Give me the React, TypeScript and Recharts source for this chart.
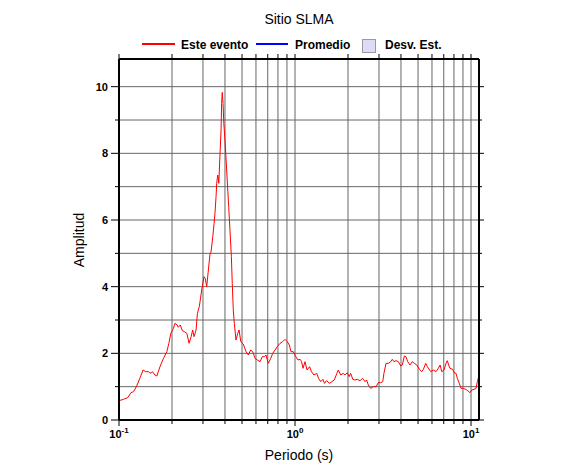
import { CartesianGrid, Line, LineChart, XAxis, YAxis } from 'recharts';

const periods = [
  0.1, 0.106, 0.112, 0.117, 0.121, 0.126, 0.132, 0.137, 0.142, 0.147, 0.152, 0.155,
  0.16, 0.164, 0.171, 0.179, 0.187, 0.192, 0.197, 0.204, 0.208, 0.214, 0.217, 0.223,
  0.229, 0.235, 0.243, 0.25, 0.257, 0.262, 0.267, 0.274, 0.279, 0.286, 0.295, 0.304,
  0.309, 0.315, 0.322, 0.329, 0.333, 0.341, 0.347, 0.351, 0.356, 0.359, 0.364, 0.369,
  0.375, 0.38, 0.383, 0.386, 0.39, 0.394, 0.4, 0.406, 0.412, 0.42, 0.427, 0.435,
  0.44, 0.446, 0.452, 0.462, 0.473, 0.481, 0.492, 0.508, 0.527, 0.543, 0.56, 0.575,
  0.593, 0.611, 0.633, 0.652, 0.669, 0.684, 0.705, 0.728, 0.747, 0.77, 0.793, 0.822,
  0.851, 0.877, 0.904, 0.928, 0.949, 0.978, 1.01, 1.04, 1.07, 1.09, 1.11, 1.14,
  1.17, 1.21, 1.24, 1.28, 1.33, 1.36, 1.4, 1.44, 1.47, 1.51, 1.57, 1.62,
  1.67, 1.73, 1.76, 1.82, 1.88, 1.92, 1.98, 2.03, 2.07, 2.13, 2.19, 2.26,
  2.34, 2.42, 2.5, 2.55, 2.61, 2.69, 2.79, 2.89, 2.97, 3.07, 3.15, 3.2,
  3.29, 3.39, 3.5, 3.57, 3.65, 3.75, 3.86, 3.99, 4.07, 4.18, 4.27, 4.37,
  4.5, 4.64, 4.76, 4.92, 5.09, 5.25, 5.36, 5.53, 5.65, 5.9, 6.11, 6.33,
  6.52, 6.67, 6.82, 7.02, 7.21, 7.33, 7.47, 7.6, 7.87, 8.01, 8.22, 8.36,
  8.58, 8.77, 9.04, 9.33, 9.58, 9.87, 10.09, 10.4, 10.68, 10.86, 11.06,
];

const amps = [
  0.58, 0.62, 0.67, 0.82, 0.85, 1.02, 1.28, 1.5, 1.45, 1.45, 1.4, 1.45,
  1.35, 1.32, 1.6, 1.85, 2.05, 2.3, 2.6, 2.75, 2.9, 2.85, 2.78, 2.85,
  2.68, 2.65, 2.6, 2.3, 2.5, 2.7, 2.5, 2.7, 3.2, 3.4, 3.9, 4.3,
  4.25, 4.0, 4.5, 5.0, 5.02, 5.5, 5.9, 6.2, 6.7, 7.1, 7.35, 7.1,
  8.0, 8.7, 9.5, 9.83, 9.5, 8.9, 8.4, 7.8, 7.2, 6.4, 5.7, 4.9,
  4.1, 3.3, 2.9, 2.4, 2.6, 2.7, 2.35, 2.28, 2.05, 1.95, 2.1, 2.05,
  1.85, 1.8, 1.75, 1.9, 1.9, 1.95, 1.7, 1.85, 2.0, 2.1, 2.2, 2.3,
  2.35, 2.42, 2.35, 2.25, 2.05, 2.05, 1.9, 1.8, 1.82, 1.75, 1.55, 1.75,
  1.5, 1.6, 1.45, 1.35, 1.4, 1.25, 1.15, 1.22, 1.1, 1.18, 1.1, 1.15,
  1.2, 1.4, 1.5, 1.35, 1.4, 1.35, 1.42, 1.3, 1.4, 1.22, 1.2, 1.22,
  1.18, 1.25, 1.15, 1.2, 1.05, 0.95, 1.0, 1.0, 1.12, 1.12, 1.15, 1.4,
  1.7, 1.7, 1.75, 1.82, 1.75, 1.78, 1.75, 1.62, 1.65, 1.92, 1.9, 1.75,
  1.65, 1.75, 1.7, 1.65, 1.52, 1.45, 1.52, 1.7, 1.6, 1.45, 1.5, 1.45,
  1.55, 1.65, 1.45, 1.5, 1.7, 1.78, 1.65, 1.55, 1.52, 1.42, 1.4, 1.25,
  1.1, 0.95, 0.95, 0.92, 0.88, 0.82, 0.9, 0.92, 0.95, 1.15, 1.3,
];

const xTicks = [
  0.1, 0.2, 0.3, 0.4, 0.5, 0.6, 0.7, 0.8, 0.9,
  1, 2, 3, 4, 5, 6, 7, 8, 9, 10,
];
const yTicks = [0, 1, 2, 3, 4, 5, 6, 7, 8, 9, 10];

const X_DOMAIN: [number, number] = [0.1, 11.1];
const Y_DOMAIN: [number, number] = [0, 10.83];

const FONT = '"Liberation Sans", Arial, Helvetica, sans-serif';

const data = periods.map((p, i) => ({ period: p, amp: amps[i] }));

function isDecade(v: number) {
  const l = Math.log10(v);
  return Math.abs(l - Math.round(l)) < 1e-6;
}

function BottomTick(props: any) {
  const { x, y, payload } = props;
  const v = payload.value as number;
  const major = isDecade(v);
  const exp = Math.round(Math.log10(v));
  return (
    <g>
      <line x1={x} x2={x} y1={y} y2={y + (major ? 6 : 4)} stroke="#000" />
      {major && (
        <text x={x} y={y + 17.5} textAnchor="middle" fontSize={11} fontWeight="bold" fill="#000">
          10
          <tspan dy={-5} fontSize={8}>
            {String(exp)}
          </tspan>
        </text>
      )}
    </g>
  );
}

function TopTick(props: any) {
  const { x, y } = props;
  return <line x1={x} x2={x} y1={y} y2={y - 5} stroke="#000" />;
}

function LeftTick(props: any) {
  const { x, y, payload } = props;
  const v = payload.value as number;
  const major = v % 2 === 0;
  return (
    <g>
      <line x1={x} x2={x - (major ? 8 : 4)} y1={y} y2={y} stroke="#000" />
      {major && (
        <text x={x - 11} y={y + 4} textAnchor="end" fontSize={11} fontWeight="bold" fill="#000">
          {v}
        </text>
      )}
    </g>
  );
}

function RightTick(props: any) {
  const { x, y, payload } = props;
  const major = (payload.value as number) % 2 === 0;
  return <line x1={x} x2={x + (major ? 5 : 3)} y1={y} y2={y} stroke="#000" />;
}

export default function App() {
  return (
    <div
      style={{
        position: 'absolute',
        left: 0,
        top: 0,
        width: 586,
        height: 475,
        background: '#fff',
        fontFamily: FONT,
      }}
    >
      <LineChart
        width={586}
        height={475}
        data={data}
        margin={{ top: 49, right: 97, bottom: 25, left: 79 }}
      >
        <CartesianGrid stroke="#666" strokeWidth={1} />
        <XAxis
          dataKey="period"
          type="number"
          scale="log"
          domain={X_DOMAIN}
          ticks={xTicks}
          interval={0}
          height={30}
          tickSize={0}
          tickMargin={0}
          tick={<BottomTick />}
          axisLine={{ stroke: '#000', strokeWidth: 2 }}
          allowDataOverflow
        />
        <XAxis
          xAxisId="top"
          orientation="top"
          dataKey="period"
          type="number"
          scale="log"
          domain={X_DOMAIN}
          ticks={xTicks}
          interval={0}
          height={10}
          tickSize={0}
          tickMargin={0}
          tick={<TopTick />}
          axisLine={{ stroke: '#000', strokeWidth: 2 }}
          allowDataOverflow
        />
        <YAxis
          type="number"
          domain={Y_DOMAIN}
          ticks={yTicks}
          interval={0}
          width={40}
          tickSize={0}
          tickMargin={0}
          tick={<LeftTick />}
          axisLine={{ stroke: '#000', strokeWidth: 2 }}
          allowDataOverflow
        />
        <YAxis
          yAxisId="right"
          orientation="right"
          type="number"
          domain={Y_DOMAIN}
          ticks={yTicks}
          interval={0}
          width={10}
          tickSize={0}
          tickMargin={0}
          tick={<RightTick />}
          axisLine={{ stroke: '#000', strokeWidth: 2 }}
          allowDataOverflow
        />
        <Line
          type="linear"
          dataKey="amp"
          stroke="#ff0000"
          strokeWidth={1}
          dot={false}
          isAnimationActive={false}
        />
      </LineChart>
      <svg
        width={586}
        height={475}
        style={{ position: 'absolute', left: 0, top: 0, pointerEvents: 'none' }}
      >
        <text x={299} y={24} textAnchor="middle" fontSize={14} fill="#000">
          Sitio SLMA
        </text>
        <line x1={142} x2={175} y1={44} y2={44} stroke="#ff0000" strokeWidth={2} />
        <text x={181} y={49} fontSize={12} fontWeight="bold" fill="#000">
          Este evento
        </text>
        <line x1={256} x2={288} y1={44} y2={44} stroke="#0000ff" strokeWidth={2} />
        <text x={295} y={49} fontSize={12} fontWeight="bold" fill="#000">
          Promedio
        </text>
        <rect x={362.5} y={39.5} width={13} height={13} fill="#dcdcf6" stroke="#9a9a9a" />
        <text x={385} y={49} fontSize={12} fontWeight="bold" fill="#000">
          Desv. Est.
        </text>
        <text x={299} y={460} textAnchor="middle" fontSize={14} fill="#000">
          Periodo (s)
        </text>
        <text
          x={0}
          y={0}
          transform="translate(84,240) rotate(-90)"
          textAnchor="middle"
          fontSize={14}
          fill="#000"
        >
          Amplitud
        </text>
      </svg>
    </div>
  );
}
